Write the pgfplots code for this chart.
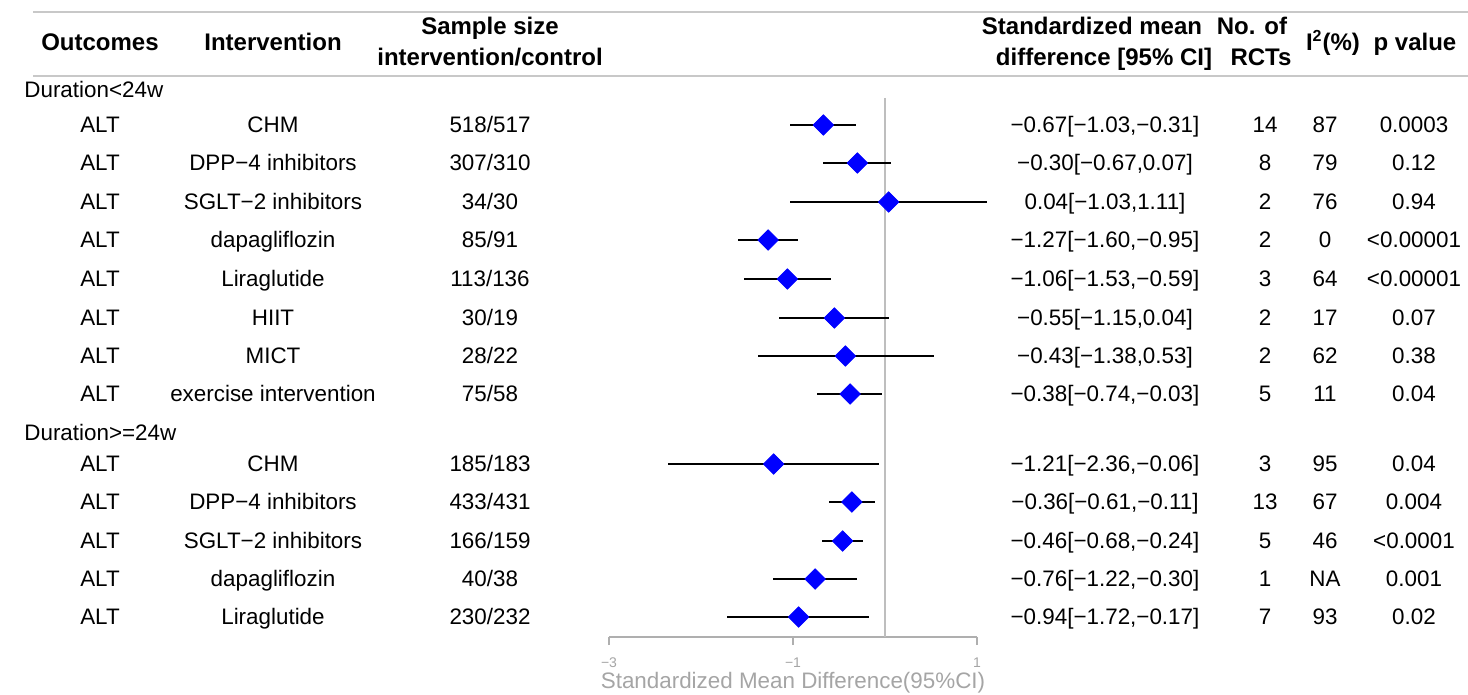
\documentclass[border=0pt]{standalone}
\usepackage{pgfplots}
\pgfplotsset{compat=1.18}
\usepackage{pgfplotstable}
\usepackage{fontspec}
\setmainfont{Liberation Sans}
\definecolor{rulegray}{RGB}{200,200,200}
\definecolor{refgray}{RGB}{190,190,190}
\definecolor{axgray}{RGB}{175,175,175}
\definecolor{labgray}{RGB}{165,165,165}

\pgfplotstableread{
y     est    lo     hi
-125 -0.67  -1.03  -0.31
-163 -0.30  -0.67   0.07
-202  0.04  -1.03   1.11
-240 -1.27  -1.60  -0.95
-279 -1.06  -1.53  -0.59
-318 -0.55  -1.15   0.04
-356 -0.43  -1.38   0.53
-394 -0.38  -0.74  -0.03
-464 -1.21  -2.36  -0.06
-502 -0.36  -0.61  -0.11
-541 -0.46  -0.68  -0.24
-579 -0.76  -1.22  -0.30
-617 -0.94  -1.72  -0.17
}\smd

\newcommand{\rowfont}{\fontsize{11.2}{13}\selectfont}
\newcommand{\hdfont}{\fontsize{12}{14}\selectfont\bfseries}
\tikzset{
  rt/.style={font=\rowfont, text height=1.45ex, text depth=0.0ex, inner sep=0pt},
  ht/.style={font=\hdfont, text height=1.45ex, text depth=0.0ex, inner sep=0pt},
}
\newcommand{\R}[7]{%
  \node[rt] at (100,#1) {ALT};
  \node[rt] at (273,#1) {#2};
  \node[rt] at (490,#1) {#3};
  \node[rt] at (1105,#1) {#4};
  \node[rt] at (1265,#1) {#5};
  \node[rt] at (1325,#1) {#6};
  \node[rt] at (1414,#1) {#7};
}

\begin{document}
\begin{tikzpicture}[x=0.5pt,y=-0.5pt]
\useasboundingbox (0,0) rectangle (1468,695);

% table rules
\draw[rulegray, line width=1pt] (33,12) -- (1468,12);
\draw[rulegray, line width=1pt] (33,76) -- (1468,76);

% headers
\node[ht] at (100,43) {Outcomes};
\node[ht] at (273,43) {Intervention};
\node[ht] at (490,27) {Sample size};
\node[ht] at (490,58) {intervention/control};
\node[ht] at (1092,27) {Standardized mean};
\node[ht] at (1252,27) {No. of};
\node[ht] at (1104,58) {difference [95\% CI]};
\node[ht] at (1261,58) {RCTs};
\node[ht] at (1333,43) {I\textsuperscript{2}(\%)};
\node[ht] at (1415,43) {p value};

\node[rt, anchor=west] at (24,90) {Duration<24w};
\node[rt, anchor=west] at (24,433) {Duration>=24w};

\R{125}{CHM}{518/517}{−0.67[−1.03,−0.31]}{14}{87}{0.0003}
\R{163}{DPP−4 inhibitors}{307/310}{−0.30[−0.67,0.07]}{8}{79}{0.12}
\R{202}{SGLT−2 inhibitors}{34/30}{0.04[−1.03,1.11]}{2}{76}{0.94}
\R{240}{dapagliflozin}{85/91}{−1.27[−1.60,−0.95]}{2}{0}{<0.00001}
\R{279}{Liraglutide}{113/136}{−1.06[−1.53,−0.59]}{3}{64}{<0.00001}
\R{318}{HIIT}{30/19}{−0.55[−1.15,0.04]}{2}{17}{0.07}
\R{356}{MICT}{28/22}{−0.43[−1.38,0.53]}{2}{62}{0.38}
\R{394}{exercise intervention}{75/58}{−0.38[−0.74,−0.03]}{5}{11}{0.04}
\R{464}{CHM}{185/183}{−1.21[−2.36,−0.06]}{3}{95}{0.04}
\R{502}{DPP−4 inhibitors}{433/431}{−0.36[−0.61,−0.11]}{13}{67}{0.004}
\R{541}{SGLT−2 inhibitors}{166/159}{−0.46[−0.68,−0.24]}{5}{46}{<0.0001}
\R{579}{dapagliflozin}{40/38}{−0.76[−1.22,−0.30]}{1}{NA}{0.001}
\R{617}{Liraglutide}{230/232}{−0.94[−1.72,−0.17]}{7}{93}{0.02}

\begin{axis}[
  at={(304.5pt,-318.5pt)}, anchor=south west,
  width=184pt, height=269.5pt, scale only axis,
  xmin=-3, xmax=1, ymin=-637, ymax=-98,
  axis x line=bottom, axis y line=none,
  x axis line style={-, draw=axgray, line width=0.8pt},
  xtick={-3,-1,1}, xticklabels={−3,−1,1},
  tick align=outside, major tick length=4pt,
  every tick/.style={axgray, line width=0.8pt},
  xticklabel style={font=\fontsize{7}{8}\selectfont, text=labgray, yshift=-3pt},
  xlabel={Standardized Mean Difference(95\%CI)},
  xlabel style={font=\fontsize{11.2}{13}\selectfont, text=labgray, yshift=4.5pt},
  clip=false,
]
\addplot[refgray, line width=1pt] coordinates {(0,-98) (0,-637)};
\addplot[only marks, mark=square*, mark size=3.6pt,
  mark options={rotate=45, draw=blue, fill=blue},
  error bars/.cd, x dir=both, x explicit, error mark=none,
  error bar style={black, line width=1.4pt}]
  table[x=est, y=y, x error plus expr=\thisrow{hi}-\thisrow{est},
        x error minus expr=\thisrow{est}-\thisrow{lo}] {\smd};
\end{axis}
\end{tikzpicture}
\end{document}
